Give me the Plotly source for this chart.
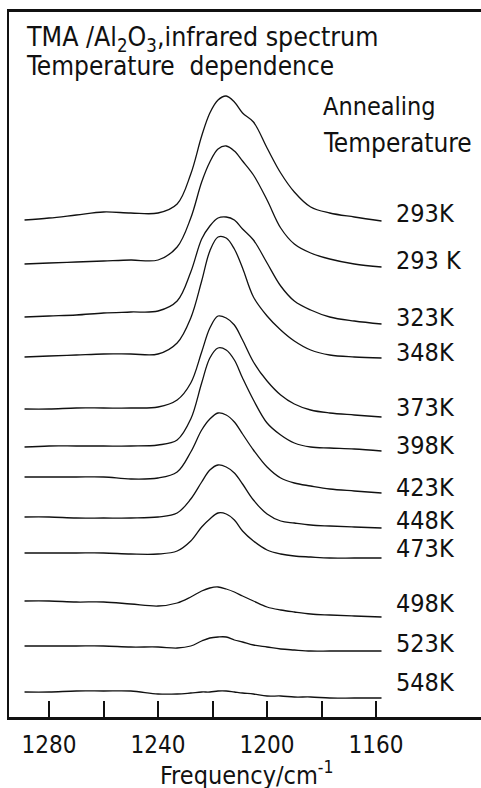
import plotly.graph_objects as go

# Wavenumber grid (cm^-1) shared by all spectra
freq = [1289, 1280, 1270, 1260, 1250, 1240, 1233, 1228, 1224, 1221, 1218,
        1215, 1212, 1209, 1205, 1200, 1195, 1190, 1184, 1177, 1168, 1158]

# Annealing temperatures, top to bottom
temps = ["293K", "293 K", "323K", "348K", "373K", "398K",
         "423K", "448K", "473K", "498K", "523K", "548K"]

# Vertical stacking offset of each spectrum (arb. units)
offsets = [497, 453, 400, 360, 308, 270, 240, 200, 164, 116, 71, 25]

# Absorbance of each spectrum above its own baseline (arb. units)
a_293a = [0, 2, 5, 8, 7, 7, 16, 46, 84, 107, 120, 124, 118, 107, 98, 72, 47, 28, 13, 7, 3, -1]
a_293b = [0, 1, 2, 3, 4, 4, 17, 46, 82, 102, 115, 118, 113, 103, 89, 64, 36, 20, 11, 5, 0, -3]
a_323 = [0, 1, 2, 4, 5, 6, 16, 45, 78, 91, 99, 100, 97, 88, 77, 54, 31, 16, 7, 0, -4, -7]
a_348 = [0, 1, 2, 3, 3, 3, 14, 39, 76, 106, 120, 119, 108, 89, 60, 41, 27, 16, 7, 2, 0, -1]
a_373 = [0, 0, 1, 1, 1, 2, 9, 26, 57, 81, 93, 91, 84, 69, 47, 28, 14, 5, -1, -4, -6, -8]
a_398 = [0, 1, 1, 1, 1, 2, 7, 28, 64, 89, 99, 97, 87, 69, 47, 24, 12, 4, 0, -1, -2, -4]
a_423 = [0, 0, 0, 0, -2, -1, 5, 25, 47, 58, 64, 62, 55, 43, 27, 10, -1, -6, -9, -12, -14, -16]
a_448 = [0, 0, -1, -1, -1, 0, 4, 18, 35, 47, 52, 50, 44, 33, 17, 3, -4, -6, -8, -9, -10, -11]
a_473 = [0, 0, 0, 0, -1, -1, 2, 12, 26, 34, 40, 39, 33, 22, 12, 3, -1, -3, -4, -5, -5, -5]
a_498 = [0, 0, -1, -1, -3, -5, -2, 4, 10, 13, 14, 12, 9, 5, 0, -6, -9, -11, -13, -14, -15, -16]
a_523 = [0, 0, 0, 0, -1, -1, -2, 0, 5, 8, 9, 9, 6, 4, 1, -1, -3, -4, -5, -5, -5, -5]
a_548 = [0, 0, 1, 1, 1, -2, -2, -1, 0, 0, 1, 1, 0, -1, -2, -4, -4, -5, -5, -6, -6, -6]

spectra = [a_293a, a_293b, a_323, a_348, a_373, a_398,
           a_423, a_448, a_473, a_498, a_523, a_548]

# Tick positions along the frequency axis
tick_vals = [1280, 1260, 1240, 1220, 1200, 1180, 1160]
tick_text = ["1280", "", "1240", "", "1200", "", "1160"]

# ---- layout geometry (pixels) ----
W, H = 481, 788
ML, MR, MT, MB = 9, 0, 12, 71
X_RANGE = [1294.7, 1121.5]
Y_RANGE = [0, 705]
FONT = "DejaVu Sans Condensed, DejaVu Sans, sans-serif"
INK = "#111111"

fig = go.Figure()

for off, a in zip(offsets, spectra):
    fig.add_trace(go.Scatter(
        x=freq, y=[off + v for v in a], mode="lines",
        line=dict(color=INK, width=1.3, shape="spline", smoothing=1.0),
        hoverinfo="skip", showlegend=False,
    ))

# Temperature labels at the right end of each spectrum
label_y = [504, 457, 400, 365, 310, 272, 230, 197, 169, 114, 74, 35]
label_x = 1153.5
annotations = []
for t, ly in zip(temps, label_y):
    annotations.append(dict(
        x=label_x, y=ly, xref="x", yref="y", text=t, showarrow=False,
        xanchor="left", yanchor="middle",
        font=dict(family=FONT, size=25, color=INK),
    ))

plot_h = H - MT - MB


def py(px):
    """pixel row -> paper y"""
    return (H - MB - px) / plot_h


def px_x(px):
    """pixel column -> paper x"""
    return (px - ML) / (W - ML - MR)


annotations += [
    dict(x=px_x(24), y=py(38), xref="paper", yref="paper", xanchor="left", yanchor="middle",
         text="TMA /Al<sub>2</sub>O<sub>3</sub>,infrared spectrum", showarrow=False,
         font=dict(family=FONT, size=26.5, color=INK)),
    dict(x=px_x(24), y=py(66), xref="paper", yref="paper", xanchor="left", yanchor="middle",
         text="Temperature  dependence", showarrow=False,
         font=dict(family=FONT, size=26, color=INK)),
    dict(x=px_x(321), y=py(107), xref="paper", yref="paper", xanchor="left", yanchor="middle",
         text="Annealing", showarrow=False,
         font=dict(family=FONT, size=25, color=INK)),
    dict(x=px_x(321), y=py(143), xref="paper", yref="paper", xanchor="left", yanchor="middle",
         text="Temperature", showarrow=False,
         font=dict(family=FONT, size=26, color=INK)),
    dict(x=px_x(247), y=py(773), xref="paper", yref="paper", xanchor="center", yanchor="middle",
         text="Frequency/cm<sup>-1</sup>", showarrow=False,
         font=dict(family=FONT, size=25, color=INK)),
]

fig.update_layout(
    width=W, height=H,
    margin=dict(l=ML, r=MR, t=MT, b=MB, pad=0),
    paper_bgcolor="white", plot_bgcolor="white",
    annotations=annotations,
    xaxis=dict(
        range=X_RANGE, showgrid=False, zeroline=False,
        showline=True, linecolor=INK, linewidth=2.5, mirror=True,
        ticks="inside", ticklen=16, tickwidth=2, tickcolor=INK,
        tickvals=tick_vals, ticktext=tick_text,
        tickfont=dict(family=FONT, size=24, color=INK),
        ticklabelstandoff=4,
    ),
    yaxis=dict(
        range=Y_RANGE, showgrid=False, zeroline=False, showticklabels=False,
        showline=True, linecolor=INK, linewidth=2, ticks="",
    ),
)

fig.write_html("out.html")
